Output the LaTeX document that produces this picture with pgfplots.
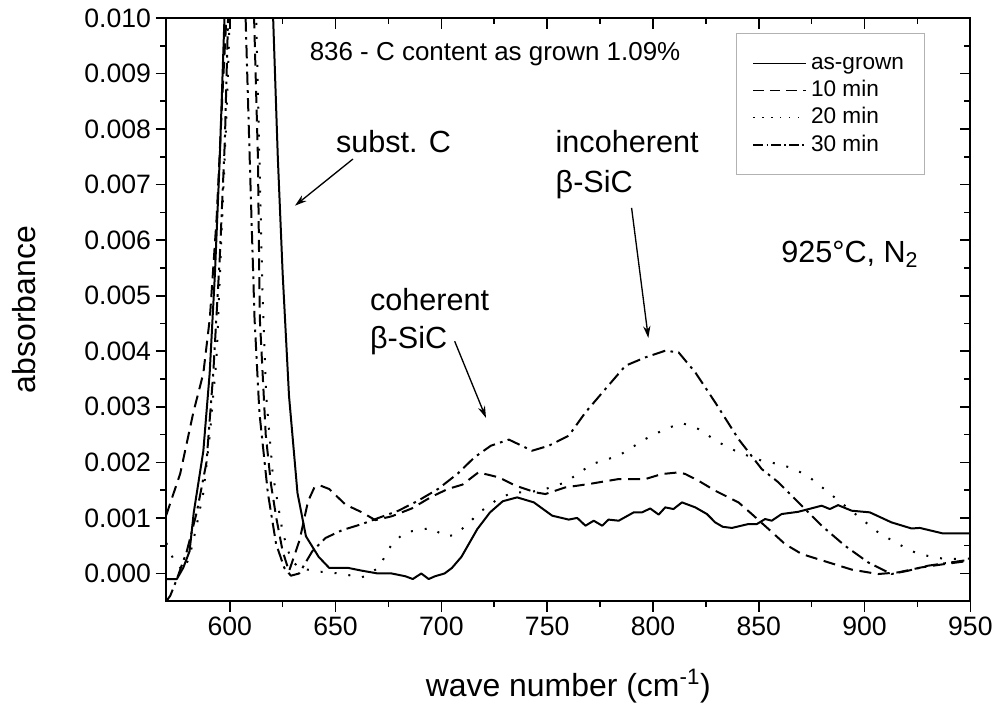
\documentclass[border=0pt]{standalone}
\usepackage{fontspec}
\setmainfont{Liberation Sans}
\usepackage{pgfplots}
\pgfplotsset{compat=1.18}
\usetikzlibrary{arrows.meta}

\begin{document}
\begin{tikzpicture}
\pgfplotsset{
  frame/.style={
    width=604.5pt, height=438.5pt, scale only axis,
    xmin=570, xmax=950, ymin=-0.0005, ymax=0.010,
    xtick={600,650,700,750,800,850,900,950},
    ytick={0,0.001,0.002,0.003,0.004,0.005,0.006,0.007,0.008,0.009,0.010},
    minor x tick num=1, minor y tick num=1,
    major tick length=8pt, minor tick length=4.5pt,
    tick style={black, line width=1.2pt},
    axis line style={black, line width=1.5pt},
    scaled x ticks=false, scaled y ticks=false,
  },
}
\begin{axis}[
  frame, name=main,
  xtick pos=left, ytick pos=left, tick align=outside,
  /pgf/number format/assume math mode=true,
  yticklabel style={/pgf/number format/.cd, fixed, fixed zerofill, precision=3},
  ticklabel style={font=\fontsize{20}{24}\selectfont},
  xlabel={wave number (cm\textsuperscript{-1})},
  ylabel={absorbance},
  label style={font=\fontsize{24}{28}\selectfont},
  xlabel style={at={(axis description cs:0.5,-0.163)}, anchor=base},
  ylabel style={at={(axis description cs:-0.177,0.5)}, anchor=center},
  legend style={at={(0.943,0.974)}, anchor=north east, draw=gray!60,
    line width=0.75pt, fill=white, font=\fontsize{17}{20.5}\selectfont,
    inner xsep=12pt, inner ysep=12pt,
    nodes={text height=12.5pt, text depth=3.5pt, inner ysep=2.25pt, inner xsep=3pt}},
  legend cell align=left,
  legend image code/.code={\draw[#1] (0pt,0pt) -- (40pt,0pt);},
]

% as-grown
\addplot[black, line width=1.5pt, line join=round,
  legend image post style={line width=1pt}] coordinates {
(570,-0.0001) (575,-0.0001) (578,0.0001) (581,0.0004) (583,0.0011)
(587.5,0.0022) (590.5,0.0036) (593,0.0054) (595.3,0.0075) (597.5,0.0100)
(599,0.0125) (619.5,0.0125) (620.5,0.0100) (622.7,0.0075) (625,0.0054)
(628,0.0032) (632,0.00145) (636,0.00067) (642,0.0003) (647,0.0001)
(656,0.0001) (662.5,0.00005) (670,0.0) (676.5,0.0) (683,-0.00005)
(686.5,-0.0001) (690.5,0.0) (694,-0.0001) (697,-0.00005) (701.5,0.0)
(705,0.0001) (709.5,0.0003) (717,0.0008) (723,0.0011) (729,0.0013)
(735.8,0.00137) (743.7,0.00128) (752.4,0.00104) (760.2,0.00097) (764.2,0.0010)
(768.1,0.00086) (772,0.00095) (776,0.00086) (779,0.00097) (783.8,0.00095)
(790.9,0.0011) (794.8,0.0011) (798.7,0.00117) (802.7,0.00106) (805.8,0.00119)
(809.7,0.00116) (813.7,0.00128) (820,0.00119) (825.5,0.00107) (829.4,0.00092)
(833,0.00084) (837.3,0.00082) (845.1,0.00089) (849.1,0.00089) (853,0.00098)
(856.1,0.00095) (860.8,0.00107) (868.6,0.00111) (879.7,0.00122) (883.6,0.00116)
(887.5,0.00123) (893.9,0.00113) (902.5,0.0011) (912.7,0.00092) (922.2,0.00081)
(926.1,0.00082) (937.1,0.00072) (950,0.00072)
};
\addlegendentry{as-grown}

% 10 min
\addplot[black, line width=1.5pt, line join=round, dash pattern=on 9pt off 5pt,
  legend image post style={line width=1pt, dash pattern=on 8pt off 4.5pt}] coordinates {
(570,0.00105) (576.6,0.0018) (582.8,0.0029) (587.5,0.0036) (590.6,0.0046)
(593.8,0.0064) (596.9,0.0089) (598.4,0.0100) (600,0.012) (610,0.012)
(611.5,0.0100) (613.3,0.0075) (614.2,0.0046) (617,0.0025) (619.5,0.0016)
(622,0.0010) (625,0.0004) (628,0.00004) (633,0.0006) (637,0.0013)
(640,0.00155) (643,0.00158) (647,0.00152) (654.7,0.00124) (662.5,0.0011)
(668.8,0.00096) (676.6,0.00103) (686,0.00117) (695.3,0.00138) (703,0.00152)
(710,0.0016) (717.5,0.00182) (727.2,0.00173) (735.1,0.00158) (744.5,0.00146)
(749.2,0.00143) (758.6,0.00155) (769.7,0.00161) (783.8,0.0017) (796.4,0.0017)
(804.2,0.00179) (812.1,0.00182) (815.3,0.00179) (821.5,0.00167) (829.4,0.00149)
(840.4,0.00128) (846.7,0.00107) (854.6,0.0008) (862.4,0.00053) (870.3,0.00035)
(882.9,0.0002) (893.9,0.00007) (906.4,-0.00001) (915.9,0.00002) (926.9,0.00011)
(937.9,0.00017) (950,0.00023)
};
\addlegendentry{10 min}

% 20 min
\addplot[black, line width=1.5pt, line join=round, dash pattern=on 1.5pt off 9pt,
  legend image post style={line width=1pt, dash pattern=on 1pt off 5.75pt}] coordinates {
(570,0.00055) (574,0.0002) (578,0.00005) (581,0.0003) (584,0.0008)
(587.5,0.00145) (590.6,0.0025) (593.8,0.0039) (596.1,0.0061) (598.4,0.0082)
(600,0.0100) (601,0.012) (611,0.012) (612.5,0.0100) (614,0.0075)
(615.5,0.0050) (617.2,0.0032) (620.3,0.0018) (625,0.00074) (628.9,0.00025)
(632.8,0.0001) (640.6,0.00004) (651.6,0.0) (662.5,-0.00007) (670.3,0.0001)
(676.6,0.00053) (682.8,0.00074) (689,0.00078) (695.3,0.00082) (701.6,0.00067)
(706.3,0.00069) (712.5,0.00089) (718,0.0011) (725.6,0.00131) (733.5,0.00146)
(741.4,0.00146) (749.2,0.00152) (758.6,0.00164) (771.2,0.00197) (783.8,0.00212)
(796.4,0.00242) (805.8,0.0026) (813.7,0.00271) (821.5,0.0026) (831,0.00236)
(840.4,0.00218) (851.4,0.00203) (859.3,0.00197) (867.1,0.00188) (875,0.0017)
(882.9,0.00146) (890.7,0.00122) (898.6,0.00098) (906.4,0.00074) (915.9,0.00053)
(925.3,0.00035) (937.9,0.00026) (950,0.00027)
};
\addlegendentry{20 min}

% 30 min
\addplot[black, line width=1.5pt, line join=round, dash pattern=on 10pt off 4pt on 2pt off 4pt,
  legend image post style={line width=1pt, dash pattern=on 7.5pt off 2.5pt on 1pt off 2.5pt}] coordinates {
(570,-0.0005) (571.9,-0.0004) (575,-0.0001) (579.7,0.0004) (584.4,0.0011)
(589,0.0020) (592.2,0.0036) (595.3,0.0057) (597.7,0.0078) (599.2,0.0100)
(600.5,0.012) (606,0.012) (607.5,0.0100) (609.4,0.0075) (611.7,0.0046)
(614,0.0029) (618,0.00145) (621.9,0.00053) (625.8,0.0001) (628.9,-0.00004)
(632.8,0.0) (639,0.0004) (645.3,0.00064) (653.1,0.00078) (662.5,0.00089)
(670.3,0.0010) (679.7,0.00113) (689,0.00131) (698.4,0.00152) (707.8,0.0018)
(715.6,0.00209) (723.4,0.0023) (731.9,0.00241) (742.9,0.00221) (750.8,0.0023)
(760.2,0.00248) (768.1,0.0029) (777.5,0.00332) (787,0.00374) (796.4,0.00389)
(805.8,0.00401) (812.1,0.00398) (820,0.00362) (829.4,0.00308) (840.4,0.00242)
(851.4,0.00188) (859.3,0.00164) (868.7,0.00128) (879.7,0.00086) (890.7,0.0005)
(901.7,0.0002) (912.7,-0.00001) (920.6,0.00005) (930,0.00014) (941,0.0002)
(950,0.00025)
};
\addlegendentry{30 min}

% annotations
\begin{scope}[every node/.style={inner sep=0pt, anchor=base west}]
\node[font=\fontsize{19.5}{23}\selectfont] at (axis cs:637.7,0.00923) {836 - C content as grown 1.09\%};
\node[font=\fontsize{23}{27}\selectfont] at (axis cs:650.1,0.00757) {subst. C};
\node[font=\fontsize{23}{27}\selectfont] at (axis cs:666.2,0.00473) {coherent};
\node[font=\fontsize{23}{27}\selectfont] at (axis cs:666.2,0.00405) {β-SiC};
\node[font=\fontsize{23}{27}\selectfont] at (axis cs:753.9,0.00757) {incoherent};
\node[font=\fontsize{23}{27}\selectfont] at (axis cs:753.9,0.00685) {β-SiC};
\node[font=\fontsize{23}{27}\selectfont] at (axis cs:860.5,0.00559) {925°C, N\textsubscript{2}};
\end{scope}
\draw[line width=1pt, -{Stealth[length=9pt, width=5.5pt]}] (axis cs:658.2,0.00746) -- (axis cs:630.8,0.00662);
\draw[line width=1pt, -{Stealth[length=9pt, width=5.5pt]}] (axis cs:706.3,0.00418) -- (axis cs:721.1,0.0028);
\draw[line width=1pt, -{Stealth[length=9pt, width=5.5pt]}] (axis cs:789.9,0.00658) -- (axis cs:797.8,0.00424);
\end{axis}

% top and right axis lines with inward ticks
\begin{axis}[
  frame, at={(main.south west)}, anchor=south west,
  axis x line*=top, axis y line*=right, tick align=inside,
  xticklabels={}, yticklabels={},
]
\end{axis}

\path (main.south west) ++(-125pt,-79pt) rectangle ([xshift=18.2pt,yshift=13.5pt]main.north east);
\end{tikzpicture}
\end{document}
